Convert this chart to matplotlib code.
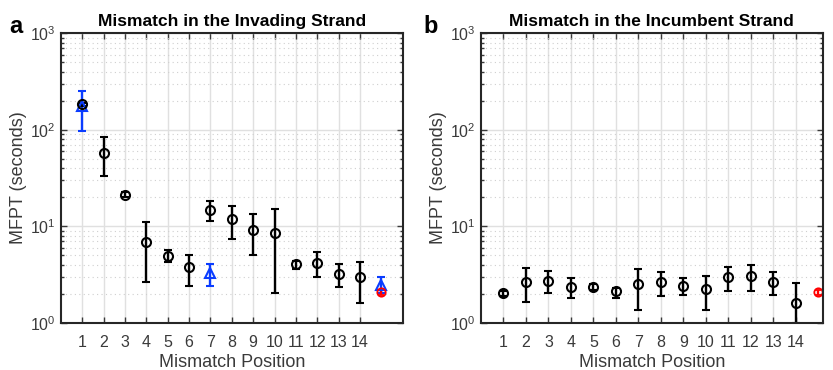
import matplotlib.pyplot as plt
import numpy as np
from matplotlib.ticker import LogLocator, NullFormatter

plt.rcParams['font.family'] = ['Liberation Sans', 'DejaVu Sans']

positions = np.arange(1, 15)

# invading strand (panel a)
inv_mean = [183, 58, 21, 6.9, 4.95, 3.77, 14.8, 11.9, 9.06, 8.5, 4.09, 4.19, 3.19, 2.95]
inv_hi = [190, 85, 22.5, 11.1, 5.66, 5.0, 18.2, 16.2, 13.3, 15.1, 4.39, 5.44, 4.09, 4.22]
inv_lo = [176, 33, 20, 2.64, 4.22, 2.42, 11.4, 7.36, 5.0, 2.01, 3.57, 2.97, 2.36, 1.61]

# blue triangles: positions 1, 7 and control (15)
tri_x = [1, 7, 15]
tri_mean = [176, 3.25, 2.48]
tri_hi = [251, 4.02, 2.98]
tri_lo = [98, 2.42, 2.05]

# incumbent strand (panel b)
inc_mean = [2.01, 2.64, 2.70, 2.36, 2.34, 2.11, 2.52, 2.64, 2.42, 2.23, 2.95, 3.02, 2.64, 1.61]
inc_hi = [2.15, 3.71, 3.40, 2.93, 2.51, 2.27, 3.63, 3.35, 2.93, 3.05, 3.80, 3.93, 3.38, 2.58]
inc_lo = [1.88, 1.64, 2.01, 1.82, 2.18, 1.82, 1.35, 1.90, 1.95, 1.35, 2.13, 2.13, 1.95, 1.00]

# red control (no mismatch)
ctrl_x = 15
ctrl_mean = 2.08
ctrl_hi = 2.20
ctrl_lo = 1.95

grey = '#3a3a3a'


def err(mean, lo, hi):
    mean = np.asarray(mean)
    return [mean - np.asarray(lo), np.asarray(hi) - mean]


def setup(ax, title, xmax, letter, letter_x):
    ax.set_yscale('log')
    ax.set_ylim(1, 1000)
    ax.set_xlim(0, xmax)
    ax.set_xticks(positions)
    ax.yaxis.set_major_locator(LogLocator(base=10, numticks=10))
    ax.yaxis.set_minor_locator(LogLocator(base=10, subs=np.arange(2, 10), numticks=20))
    ax.yaxis.set_minor_formatter(NullFormatter())
    ax.grid(True, which='major', color='#e0e0e0', linewidth=1.0, linestyle='-')
    ax.grid(True, which='minor', axis='y', color='#cfcfcf', linewidth=0.8, linestyle=(0, (1, 3)))
    ax.set_axisbelow(True)
    ax.tick_params(which='both', direction='in', top=True, right=True,
                   colors=grey, labelsize=11.5, width=1.0)
    ax.tick_params(which='major', length=4)
    ax.tick_params(which='minor', length=2.5)
    ax.tick_params(axis='x', pad=9)
    ax.tick_params(axis='y', pad=4)
    for s in ax.spines.values():
        s.set_color('#262626')
        s.set_linewidth(1.5)
    ax.set_title(title, fontsize=12.5, fontweight='bold', pad=5)
    ax.set_xlabel('Mismatch Position', fontsize=13, color=grey, labelpad=3)
    ax.set_ylabel('MFPT (seconds)', fontsize=13, color=grey, labelpad=2)
    ax.text(letter_x, 1.0, letter, transform=ax.transAxes, fontsize=17,
            fontweight='bold', va='baseline', ha='left')


fig = plt.figure(figsize=(8.33, 3.70), dpi=100)
ax1 = fig.add_axes([0.0732, 0.1278, 0.4102, 0.7822])
ax2 = fig.add_axes([0.5774, 0.1278, 0.4102, 0.7822])

kw = dict(fmt='o', mfc='none', markersize=6.5, markeredgewidth=1.5,
          elinewidth=1.7, capsize=3, capthick=1.7)
ctrl_kw = {**kw, 'markersize': 6, 'markeredgewidth': 1.3, 'capsize': 2.5}

ax1.errorbar(tri_x, tri_mean, yerr=err(tri_mean, tri_lo, tri_hi), color='#0a3cff',
             **{**kw, 'fmt': '^'})
ax1.errorbar(positions, inv_mean, yerr=err(inv_mean, inv_lo, inv_hi), color='black', **kw)
ax1.errorbar([ctrl_x], [ctrl_mean], yerr=err([ctrl_mean], [ctrl_lo], [ctrl_hi]),
             color='red', **ctrl_kw)
setup(ax1, 'Mismatch in the Invading Strand', 16, 'a', -0.15)

ax2.errorbar(positions, inc_mean, yerr=err(inc_mean, inc_lo, inc_hi), color='black', **kw)
ax2.errorbar([ctrl_x], [ctrl_mean], yerr=err([ctrl_mean], [ctrl_lo], [ctrl_hi]),
             color='red', **ctrl_kw)
setup(ax2, 'Mismatch in the Incumbent Strand', 15.2, 'b', -0.167)

fig.savefig('out.png', dpi=100)
